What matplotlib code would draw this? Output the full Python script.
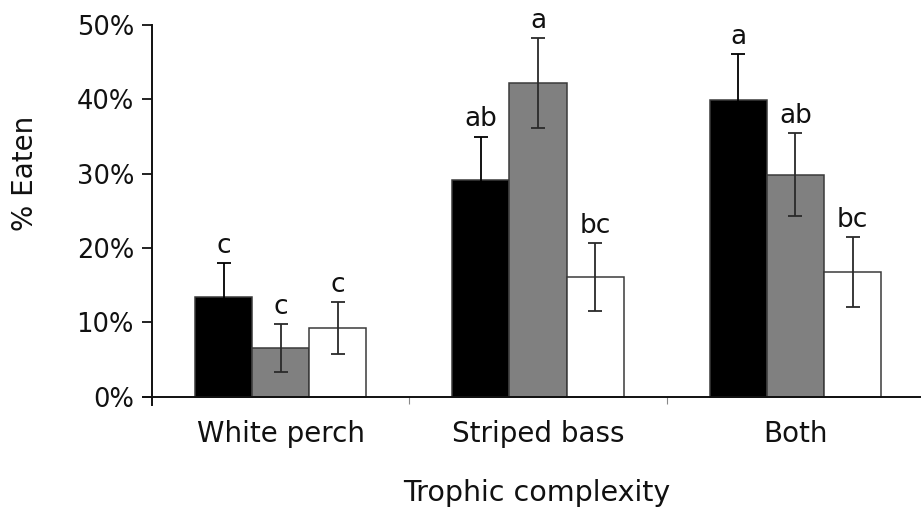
import numpy as np
import matplotlib
matplotlib.use("Agg")
import matplotlib.pyplot as plt
from matplotlib.ticker import FuncFormatter, FixedLocator

plt.rcParams['font.family'] = ['DejaVu Sans']

# % eaten per trophic complexity treatment (three prey treatments per group)
groups = ['White perch', 'Striped bass', 'Both']
black_vals = [13.4, 29.2, 39.9]
black_err = [4.6, 5.8, 6.2]
grey_vals = [6.6, 42.2, 29.9]
grey_err = [3.2, 6.0, 5.6]
white_vals = [9.2, 16.1, 16.8]
white_err = [3.5, 4.6, 4.7]
black_sig = ['c', 'ab', 'a']
grey_sig = ['c', 'a', 'ab']
white_sig = ['c', 'bc', 'bc']

fig = plt.figure(figsize=(9.21, 5.12), dpi=100)
ax = fig.add_axes([0.1553, 0.209, 0.848, 0.742])

x = np.arange(len(groups))
w = 0.222
series = [
    (black_vals, black_err, black_sig, '#000000', -w, '#000000'),
    (grey_vals, grey_err, grey_sig, '#808080', 0.0, '#2a2a2a'),
    (white_vals, white_err, white_sig, '#ffffff', w, '#2a2a2a'),
]

for vals, errs, sig, col, off, ecol in series:
    ax.bar(x + off, vals, width=w, color=col, edgecolor='#3a3a3a',
           linewidth=1.1, zorder=2)
    ax.errorbar(x + off, vals, yerr=errs, fmt='none', ecolor=ecol,
                elinewidth=1.3, capsize=5, capthick=1.3, zorder=3)
    for xi, v, e, s in zip(x + off, vals, errs, sig):
        ax.annotate(s, (xi, v + e), xytext=(0, 3), textcoords='offset points',
                    ha='center', va='bottom', fontsize=19, color='#111111')

ax.set_xlim(-0.535, 2.5)
ax.set_ylim(-1.1, 50)
ax.spines['left'].set_position(('data', -0.5))
ax.spines['bottom'].set_position(('data', 0))
ax.spines['top'].set_visible(False)
ax.spines['right'].set_visible(False)
for sp in ('left', 'bottom'):
    ax.spines[sp].set_linewidth(1.4)
    ax.spines[sp].set_color('#111111')

ax.set_yticks(np.arange(0, 51, 10))
ax.yaxis.set_major_formatter(FuncFormatter(lambda v, p: f'{v:.0f}%'))
ax.tick_params(axis='y', direction='out', length=7, width=1.3, pad=6,
               labelsize=18.5, colors='#111111')

ax.set_xticks(x)
ax.set_xticklabels(groups)
ax.xaxis.set_minor_locator(FixedLocator([0.5, 1.5]))
ax.tick_params(axis='x', which='major', length=0, pad=17, labelsize=20,
               labelcolor='#111111')
ax.tick_params(axis='x', which='minor', direction='out', length=5,
               width=0.8, color='#888888')

fig.text(537 / 921, 1 - 493 / 512, 'Trophic complexity', ha='center',
         va='center', fontsize=20.5, color='#111111')
fig.text(25 / 921, 1 - 173 / 512, '% Eaten', ha='center', va='center',
         rotation=90, fontsize=20, color='#111111')

fig.savefig('out.png', dpi=100)
